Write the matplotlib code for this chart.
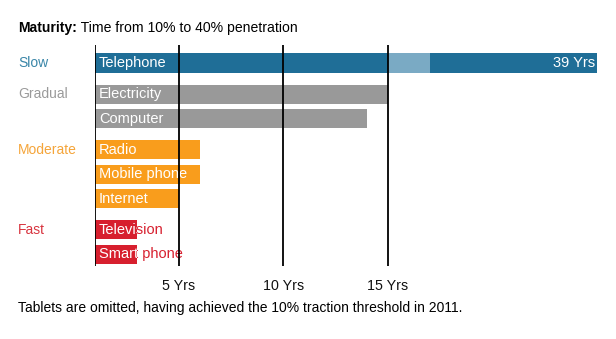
import matplotlib.pyplot as plt
from matplotlib.transforms import Bbox, TransformedBbox, blended_transform_factory

plt.rcParams["font.family"] = ["Liberation Sans", "DejaVu Sans"]

# years from 10% to 40% penetration
techs = ["Telephone", "Electricity", "Computer", "Radio", "Mobile phone",
         "Internet", "Television", "Smart phone"]
years = [39, 15, 14, 6, 6, 5, 3, 3]
groups = ["Slow", "Gradual", "Gradual", "Moderate", "Moderate", "Moderate",
          "Fast", "Fast"]
group_names = ["Slow", "Gradual", "Moderate", "Fast"]
group_colors = {"Slow": "#1f6e97", "Gradual": "#999999",
                "Moderate": "#f99d1c", "Fast": "#d71f2e"}
label_colors = {"Slow": "#3a86a8", "Gradual": "#9a9a9a",
                "Moderate": "#f5a53a", "Fast": "#d8343f"}
ticks = [5, 10, 15]
tick_labels = ["5 Yrs", "10 Yrs", "15 Yrs"]

# long telephone bar is cut: a pale block marks the skipped years
break_at = 15
break_w = 2
skipped = 14

# row positions, extra space between groups
pos = []
y = 0.0
for i, g in enumerate(groups):
    if i > 0:
        y += 1.27 if g != groups[i - 1] else 1.0
    pos.append(y)

fig = plt.figure(figsize=(6.16, 3.39), dpi=100)
ax = fig.add_axes([95 / 616, 73 / 339, 512.8 / 616, 221 / 339])
ax.set_xlim(1, 25.5)
ax.set_ylim(8.29, -0.735)
for s in ax.spines.values():
    s.set_visible(False)
ax.set_yticks([])
ax.set_xticks(ticks)
ax.set_xticklabels(tick_labels, fontsize=10.3, color="#111111")
ax.tick_params(axis="x", length=0, pad=9)

h = 0.78
fs = 10.5
for name, val, g, yy in zip(techs, years, groups, pos):
    c = group_colors[g]
    if val > break_at + break_w + skipped:
        end = val - skipped
        ax.barh(yy, end, height=h, color=c, zorder=1)
        ax.barh(yy, break_w, left=break_at, height=h, color="#7aaac4", zorder=2)
        ax.text(end - 0.1, yy, f"{val} Yrs", color="white", fontsize=fs,
                ha="right", va="center", zorder=3)
    else:
        end = val
        ax.barh(yy, end, height=h, color=c, zorder=1)
    # label in group colour, white where it sits on the bar
    ax.text(1.18, yy, name, color=c, fontsize=fs, ha="left", va="center", zorder=3)
    t = ax.text(1.18, yy, name, color="white", fontsize=fs, ha="left",
                va="center", zorder=3)
    t.set_clip_box(TransformedBbox(Bbox([[0, yy - h / 2], [end, yy + h / 2]]),
                                   ax.transData))
    t.set_clip_on(True)

for x in [1] + ticks:
    ax.axvline(x, color="black", lw=1.3, zorder=4)

tr = blended_transform_factory(fig.transFigure, ax.transData)
for g in group_names:
    yy = pos[groups.index(g)]
    ax.text(18 / 616, yy, g, transform=tr, color=label_colors[g], fontsize=10,
            ha="left", va="center", clip_on=False)

t1 = fig.text(18 / 616, 1 - 32 / 339, "Maturity:", fontsize=10.1,
              fontweight="bold", ha="left", va="baseline")
ax.annotate(" Time from 10% to 40% penetration", xy=(1, 0), xycoords=t1,
            fontsize=10.1, ha="left", va="bottom", annotation_clip=False)

fig.text(18 / 616, 1 - 308 / 339,
         "Tablets are omitted, having achieved the 10% traction threshold in 2011.",
         fontsize=10, ha="left", va="center")

fig.savefig("out.png", dpi=100)
